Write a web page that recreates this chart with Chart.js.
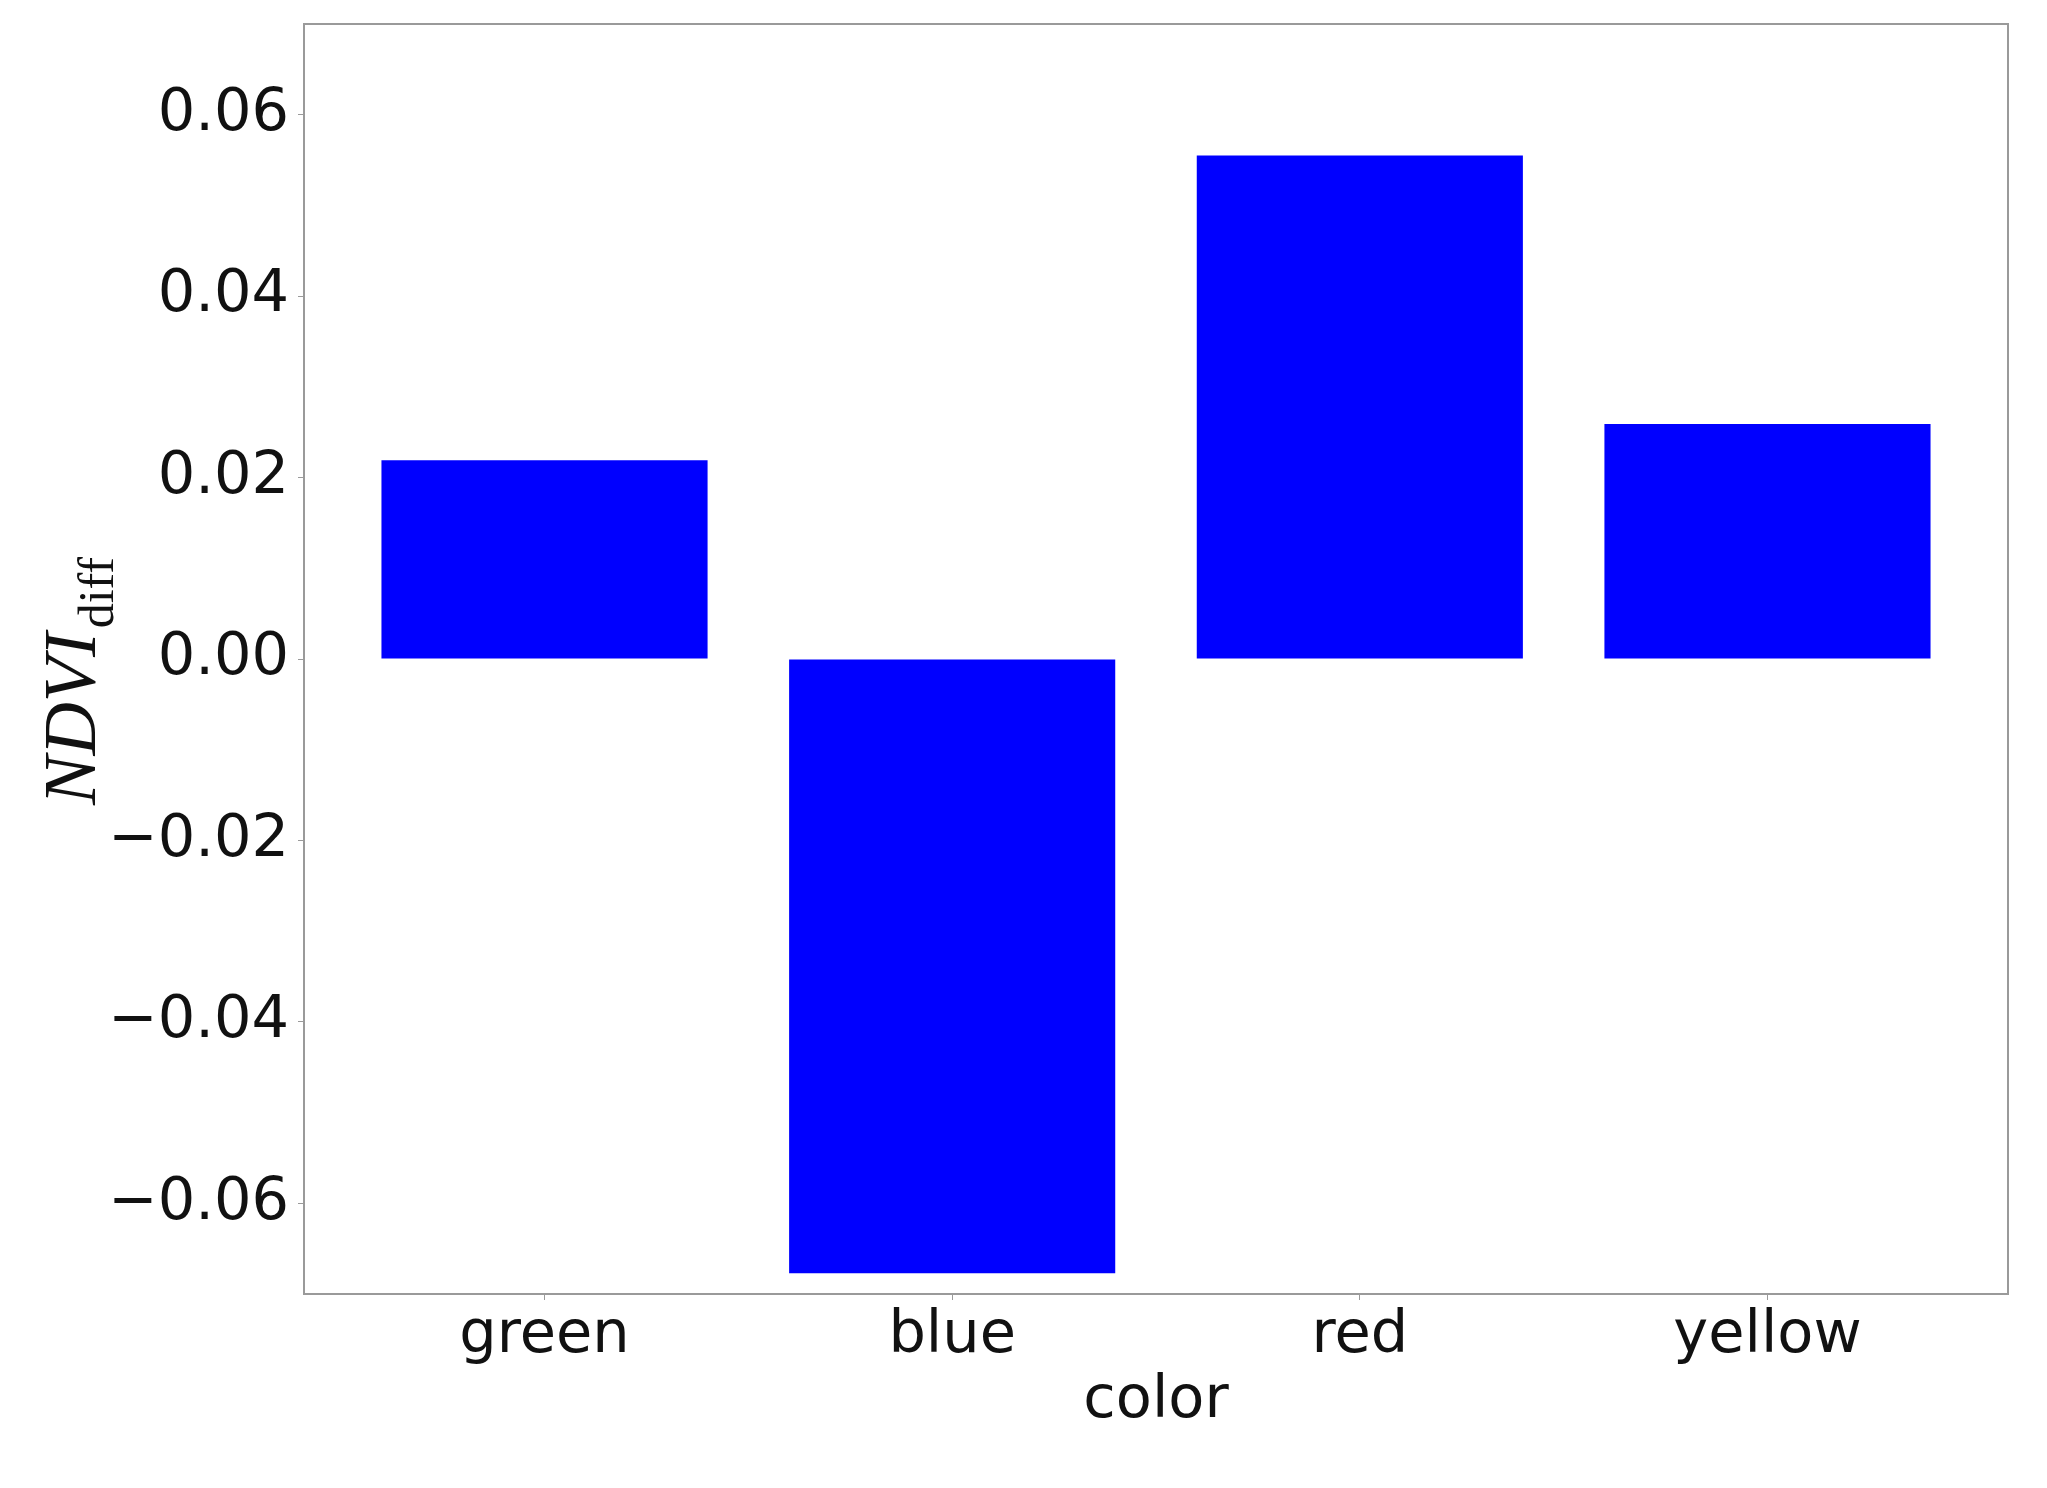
<!DOCTYPE html>
<html>
<head>
<meta charset="utf-8">
<script src="https://cdn.jsdelivr.net/npm/chart.js@4.4.0/dist/chart.umd.min.js"></script>
<style>
  body { margin: 0; background: #fff; }
  canvas { display: block; }
</style>
</head>
<body>
<canvas id="ndviChart" width="2047" height="1488"></canvas>
<script>
const categories = ["green", "blue", "red", "yellow"];
const ndviDiff = [0.0219, -0.0677, 0.0555, 0.0259];
const yTicks = [-0.06, -0.04, -0.02, 0.00, 0.02, 0.04, 0.06];

const spineColor = "#9a9a9a";
const tickFont = { family: "'DejaVu Sans'", size: 59 };

// box around the plot, like matplotlib spines
const frame = {
    id: "frame",
    afterDatasetsDraw(chart) {
        const a = chart.chartArea;
        const ctx = chart.ctx;
        ctx.save();
        ctx.strokeStyle = spineColor;
        ctx.lineWidth = 2;
        ctx.strokeRect(a.left, a.top, a.right - a.left, a.bottom - a.top);
        ctx.restore();
    }
};

// y title: italic NDVI with upright "diff" subscript
const yTitle = {
    id: "yTitle",
    afterDraw(chart) {
        const ctx = chart.ctx;
        const mainFont = "italic 74px 'Liberation Serif'";
        const subFont = "50px 'Liberation Serif'";
        ctx.save();
        ctx.font = mainFont;
        const w1 = ctx.measureText("NDVI").width;
        ctx.font = subFont;
        const w2 = ctx.measureText("diff").width;
        const center = 681;
        ctx.translate(95, center + (w1 + w2 + 4) / 2);
        ctx.rotate(-Math.PI / 2);
        ctx.fillStyle = "#111";
        ctx.textBaseline = "alphabetic";
        ctx.textAlign = "left";
        ctx.font = mainFont;
        ctx.fillText("NDVI", 0, 0);
        ctx.font = subFont;
        ctx.fillText("diff", w1 + 4, 18);
        ctx.restore();
    }
};

new Chart(document.getElementById("ndviChart").getContext("2d"), {
    type: "bar",
    data: {
        datasets: [{
            data: ndviDiff.map((v, i) => ({ x: i, y: v })),
            backgroundColor: "#0000ff",
            borderWidth: 0,
            categoryPercentage: 1,
            barPercentage: 0.8
        }]
    },
    options: {
        responsive: false,
        animation: false,
        devicePixelRatio: 1,
        layout: { padding: { left: 0, top: 24, right: 39, bottom: 0 } },
        plugins: {
            legend: { display: false },
            tooltip: { enabled: false }
        },
        scales: {
            x: {
                type: "linear",
                min: -0.59,
                max: 3.59,
                offset: false,
                afterBuildTicks: s => { s.ticks = categories.map((_, i) => ({ value: i })); },
                afterFit: s => { s.height = 194; s.paddingLeft = 0; s.paddingRight = 0; },
                grid: { offset: false, drawOnChartArea: false, drawTicks: true, tickLength: 6, color: spineColor },
                border: { display: true, color: spineColor, width: 2 },
                ticks: {
                    font: tickFont,
                    color: "#111",
                    padding: 1,
                    maxRotation: 0,
                    callback: v => categories[v] ?? ""
                },
                title: {
                    display: true,
                    text: "color",
                    font: tickFont,
                    color: "#111",
                    padding: { top: 0, bottom: 51 }
                }
            },
            y: {
                min: -0.07,
                max: 0.07,
                afterBuildTicks: s => { s.ticks = yTicks.map(v => ({ value: v })); },
                afterFit: s => { s.width = 304; s.paddingTop = 0; s.paddingBottom = 0; },
                grid: { drawOnChartArea: false, drawTicks: true, tickLength: 6, color: spineColor },
                border: { display: true, color: spineColor, width: 2 },
                ticks: {
                    font: tickFont,
                    color: "#111",
                    padding: 9,
                    callback: v => v.toFixed(2).replace("-", "\u2212")
                }
            }
        }
    },
    plugins: [frame, yTitle]
});
</script>
</body>
</html>
